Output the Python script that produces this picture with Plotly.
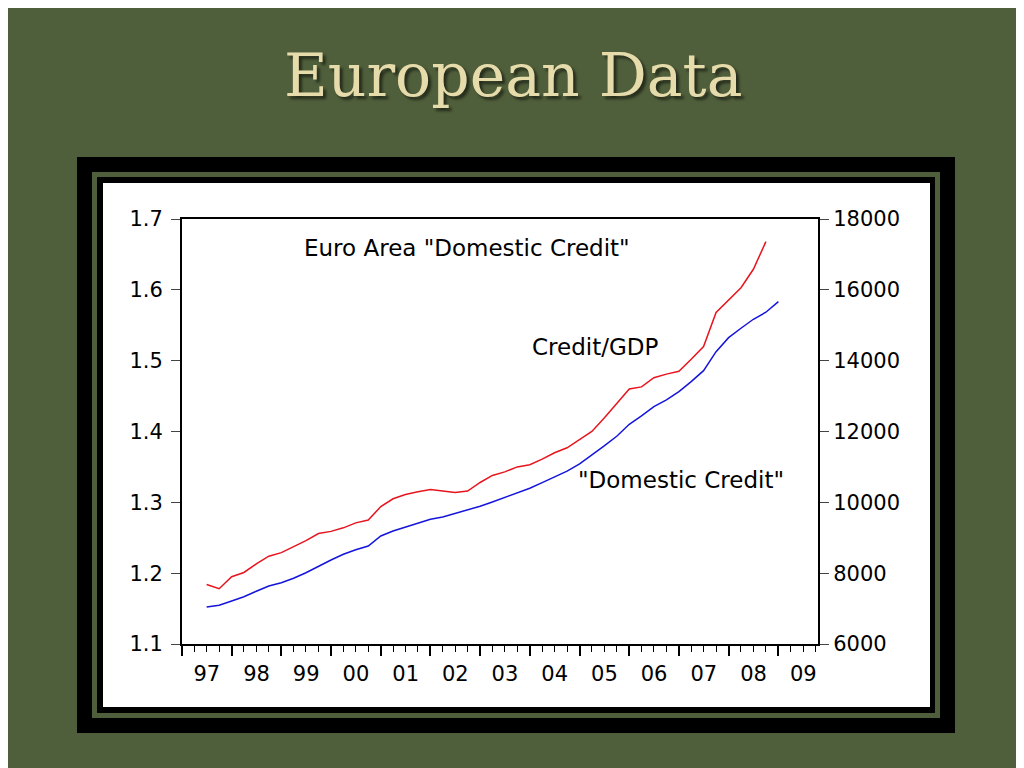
import plotly.graph_objs as go
import pandas as pd

# quarterly observations
quarters = ['1997Q3', '1997Q4',
            '1998Q1', '1998Q2', '1998Q3', '1998Q4',
            '1999Q1', '1999Q2', '1999Q3', '1999Q4',
            '2000Q1', '2000Q2', '2000Q3', '2000Q4',
            '2001Q1', '2001Q2', '2001Q3', '2001Q4',
            '2002Q1', '2002Q2', '2002Q3', '2002Q4',
            '2003Q1', '2003Q2', '2003Q3', '2003Q4',
            '2004Q1', '2004Q2', '2004Q3', '2004Q4',
            '2005Q1', '2005Q2', '2005Q3', '2005Q4',
            '2006Q1', '2006Q2', '2006Q3', '2006Q4',
            '2007Q1', '2007Q2', '2007Q3', '2007Q4',
            '2008Q1', '2008Q2', '2008Q3', '2008Q4',
            '2009Q1']

# credit/GDP ratio (left axis), last obs 2008Q4
credit_gdp = [1.184, 1.178,
              1.195, 1.201, 1.213, 1.224,
              1.229, 1.237, 1.246, 1.256,
              1.259, 1.264, 1.271, 1.275,
              1.294, 1.305, 1.311, 1.315,
              1.318, 1.316, 1.314, 1.316,
              1.328, 1.338, 1.343, 1.350,
              1.353, 1.361, 1.370, 1.377,
              1.389, 1.400, 1.419, 1.440,
              1.460, 1.463, 1.476, 1.481,
              1.485, 1.502, 1.520, 1.568,
              1.586, 1.603, 1.629, 1.668]

# domestic credit (right axis)
domestic_credit = [7045, 7093,
                   7214, 7336, 7488, 7638,
                   7731, 7855, 8013, 8203,
                   8372, 8533, 8663, 8768,
                   9050, 9191, 9304, 9417,
                   9521, 9586, 9680, 9775,
                   9890, 10010, 10143, 10273,
                   10397, 10555, 10725, 10880,
                   11083, 11329, 11592, 11865,
                   12204, 12439, 12701, 12891,
                   13125, 13407, 13718, 14254,
                   14650, 14915, 15169, 15367,
                   15667]

left_ticks = [1.1, 1.2, 1.3, 1.4, 1.5, 1.6, 1.7]
right_ticks = [6000, 8000, 10000, 12000, 14000, 16000, 18000]

dates = pd.PeriodIndex(quarters, freq='Q').to_timestamp()

# page body adds an 8px margin, so draw on a slightly smaller paper
OFF = 8
W, H = 1024 - OFF, 768 - OFF
bg = '#505f3b'


def px(x):
    return (x - OFF) / W


def py(y):
    return 1 - (y - OFF) / H


data = [go.Scatter(x=dates[:len(credit_gdp)], y=credit_gdp,
                   mode='lines', line=dict(color='#e8141e', width=1.5),
                   yaxis='y'),
        go.Scatter(x=dates, y=domestic_credit,
                   mode='lines', line=dict(color='#1414dc', width=1.5),
                   yaxis='y2')]

# slide frame: black border, green stripe, thin black, white panel
shapes = []
for (x0, y0, x1, y1, col) in [(77, 157, 955, 733, 'black'),
                              (92, 172, 940, 718, bg),
                              (97, 177, 935, 713, 'black'),
                              (103, 183, 930, 707, 'white')]:
    shapes.append(dict(type='rect', xref='paper', yref='paper',
                       x0=px(x0), x1=px(x1), y0=py(y1), y1=py(y0),
                       fillcolor=col, line=dict(width=0), layer='below'))

txt = dict(family='DejaVu Sans', size=23, color='black')
annotations = [
    dict(text='European Data', x=px(513), y=py(75), xref='paper', yref='paper',
         xanchor='center', yanchor='middle', showarrow=False,
         font=dict(family='DejaVu Serif', size=60, color='#e6dbab',
                   shadow='3px 3px 3px rgba(0,0,0,0.55)')),
    dict(text='Euro Area "Domestic Credit"', x=px(302), y=py(248),
         xref='paper', yref='paper', xanchor='left', yanchor='middle',
         showarrow=False, font=txt),
    dict(text='Credit/GDP', x=px(530), y=py(347),
         xref='paper', yref='paper', xanchor='left', yanchor='middle',
         showarrow=False, font=txt),
    dict(text='"Domestic Credit"', x=px(576), y=py(480),
         xref='paper', yref='paper', xanchor='left', yanchor='middle',
         showarrow=False, font=txt),
]

tickfont = dict(family='DejaVu Sans', size=21, color='black')

layout = go.Layout(
    width=W, height=H,
    margin=dict(l=0, r=0, t=0, b=0, pad=0),
    paper_bgcolor=bg, plot_bgcolor='white',
    showlegend=False,
    shapes=shapes, annotations=annotations,
    xaxis=dict(domain=[px(182), px(818)], type='date', automargin=False,
               range=['1997-01-01', '2009-10-19'],
               tick0='1997-01-01', dtick='M12', tickformat='%y',
               ticklabelmode='period',
               ticks='outside', ticklen=10, tickwidth=1.5, tickcolor='black',
               minor=dict(ticks='outside', ticklen=6, dtick='M3',
                          tickcolor='black', tickwidth=1.2),
               showline=True, linewidth=2, linecolor='black', mirror=True,
               showgrid=False, zeroline=False, tickfont=tickfont),
    yaxis=dict(domain=[py(644), py(219)], range=[1.1, 1.7], automargin=False,
               tickvals=left_ticks, ticktext=['%.1f' % v for v in left_ticks],
               ticks='outside', ticklen=9, tickcolor='#444',
               ticklabelstandoff=4,
               showline=True, linewidth=2, linecolor='black',
               showgrid=False, zeroline=False, tickfont=tickfont),
    yaxis2=dict(overlaying='y', side='right', range=[6000, 18000],
                automargin=False,
                tickvals=right_ticks, ticktext=[str(v) for v in right_ticks],
                ticks='outside', ticklen=9, tickcolor='#444',
                showline=True, linewidth=2, linecolor='black',
                showgrid=False, zeroline=False, tickfont=tickfont),
)

fig = go.Figure(data=data, layout=layout)
fig.write_html('out.html')
